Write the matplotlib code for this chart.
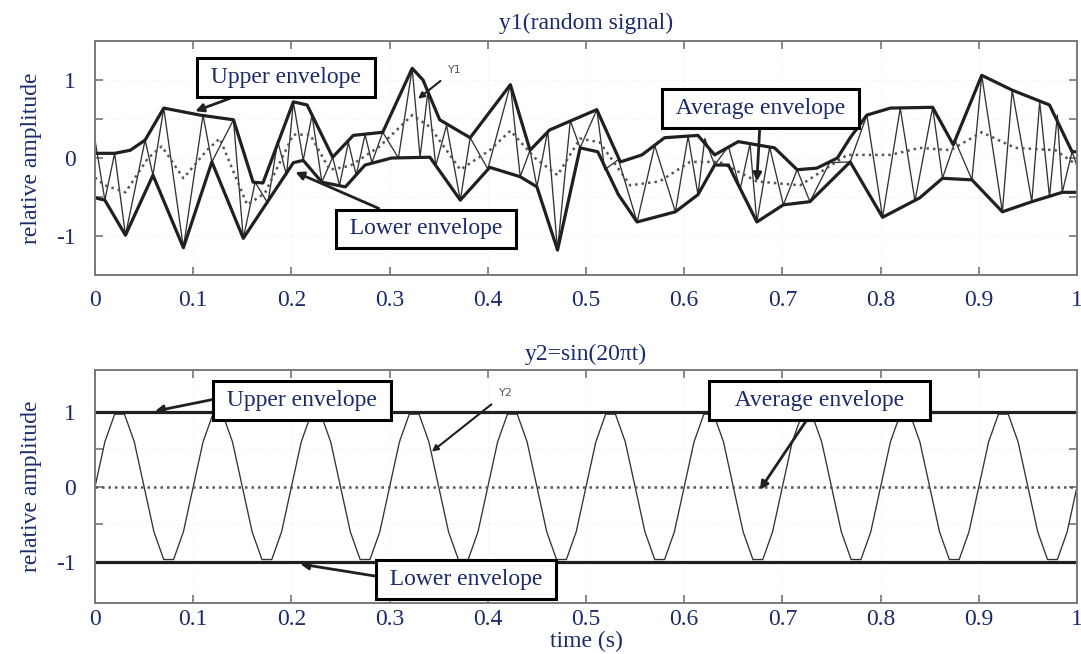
import matplotlib
matplotlib.use("Agg")
import matplotlib.pyplot as plt

# ---------------- data ----------------
# top panel: y1 (random signal)
y1_t = [0.000, 0.010, 0.020, 0.031, 0.051, 0.059, 0.070, 0.090, 0.110, 0.119,
        0.141, 0.151, 0.163, 0.176, 0.186, 0.195, 0.202, 0.212, 0.221, 0.231,
        0.242, 0.249, 0.258, 0.266, 0.275, 0.282, 0.293, 0.309, 0.323, 0.331,
        0.339, 0.347, 0.358, 0.372, 0.382, 0.400, 0.423, 0.433, 0.443, 0.450,
        0.461, 0.471, 0.484, 0.494, 0.511, 0.519, 0.533, 0.552, 0.570, 0.591,
        0.604, 0.614, 0.621, 0.631, 0.645, 0.657, 0.667, 0.674, 0.687, 0.701,
        0.715, 0.728, 0.748, 0.769, 0.786, 0.802, 0.820, 0.835, 0.853, 0.863,
        0.876, 0.893, 0.903, 0.924, 0.934, 0.954, 0.962, 0.972, 0.980, 0.985,
        0.995, 1.000]
y1_v = [0.23, -0.54, 0.06, -0.99, 0.23, -0.22, 0.64, -1.15, 0.55, -0.05,
        0.49, -1.03, -0.31, -0.58, 0.22, -0.22, 0.72, -0.03, 0.55, -0.31,
        0.01, -0.35, 0.20, -0.22, 0.30, -0.06, 0.33, 0.00, 1.15, 0.01,
        0.85, -0.10, 0.42, -0.54, 0.26, -0.14, 0.94, -0.24, 0.10, -0.37,
        0.35, -1.18, 0.48, 0.13, 0.62, -0.15, -0.02, -0.82, 0.16, -0.69,
        0.28, -0.47, 0.25, -0.09, 0.15, -0.40, 0.18, -0.82, 0.14, -0.60,
        -0.15, -0.56, -0.06, -0.05, 0.55, -0.76, 0.64, -0.55, 0.65, -0.26,
        0.22, -0.28, 1.06, -0.69, 0.87, -0.56, 0.72, -0.50, 0.55, -0.44,
        0.08, -0.10]

upper1_t = [0.000, 0.020, 0.036, 0.051, 0.070, 0.107, 0.141, 0.161, 0.171, 0.202,
            0.216, 0.242, 0.263, 0.293, 0.323, 0.334, 0.351, 0.382, 0.423, 0.443,
            0.463, 0.511, 0.535, 0.557, 0.580, 0.614, 0.631, 0.655, 0.692, 0.715,
            0.735, 0.756, 0.769, 0.786, 0.810, 0.853, 0.874, 0.903, 0.934, 0.972,
            0.995, 1.000]
upper1_v = [0.06, 0.06, 0.10, 0.23, 0.64, 0.55, 0.49, -0.31, -0.32, 0.72,
            0.68, 0.01, 0.29, 0.33, 1.15, 1.00, 0.49, 0.26, 0.94, 0.10,
            0.36, 0.62, -0.05, 0.04, 0.26, 0.29, 0.04, 0.21, 0.13, -0.15,
            -0.13, 0.00, 0.26, 0.55, 0.64, 0.65, 0.17, 1.06, 0.87, 0.68,
            0.08, 0.08]

lower1_t = [0.000, 0.010, 0.031, 0.059, 0.090, 0.119, 0.151, 0.202, 0.212, 0.231,
            0.255, 0.275, 0.302, 0.341, 0.372, 0.402, 0.433, 0.450, 0.471, 0.494,
            0.512, 0.533, 0.552, 0.591, 0.614, 0.631, 0.645, 0.674, 0.701, 0.728,
            0.769, 0.802, 0.840, 0.863, 0.893, 0.924, 0.954, 0.985, 1.000]
lower1_v = [-0.51, -0.54, -0.99, -0.22, -1.15, -0.05, -1.03, -0.06, -0.03, -0.31,
            -0.37, -0.09, 0.00, 0.01, -0.54, -0.12, -0.24, -0.37, -1.18, 0.13,
            0.08, -0.47, -0.82, -0.69, -0.47, -0.09, -0.09, -0.82, -0.60, -0.56,
            -0.05, -0.76, -0.51, -0.26, -0.28, -0.69, -0.56, -0.44, -0.44]

avg1_t = [0.000, 0.010, 0.031, 0.054, 0.068, 0.090, 0.114, 0.127, 0.155, 0.173,
          0.202, 0.219, 0.239, 0.260, 0.290, 0.323, 0.341, 0.372, 0.402, 0.423,
          0.448, 0.471, 0.494, 0.514, 0.545, 0.575, 0.606, 0.636, 0.674, 0.718,
          0.766, 0.810, 0.840, 0.871, 0.903, 0.937, 0.978, 1.000]
avg1_v = [-0.25, -0.35, -0.44, 0.00, 0.15, -0.26, 0.10, 0.25, -0.60, -0.45,
          0.30, 0.30, -0.15, -0.10, 0.15, 0.55, 0.40, -0.15, 0.10, 0.35,
          0.00, -0.22, 0.25, 0.20, -0.35, -0.30, -0.05, -0.05, -0.30, -0.35,
          0.04, 0.04, 0.13, 0.10, 0.33, 0.13, 0.10, -0.09]

# bottom panel: y2 = sin(20*pi*t), samples every 0.01 s as drawn
y2_t = [i / 100 for i in range(101)]
y2_v = [0, 0.6, 0.97, 0.97, 0.6, 0, -0.6, -0.97, -0.97, -0.6,
        0, 0.6, 0.97, 0.97, 0.6, 0, -0.6, -0.97, -0.97, -0.6,
        0, 0.6, 0.97, 0.97, 0.6, 0, -0.6, -0.97, -0.97, -0.6,
        0, 0.6, 0.97, 0.97, 0.6, 0, -0.6, -0.97, -0.97, -0.6,
        0, 0.6, 0.97, 0.97, 0.6, 0, -0.6, -0.97, -0.97, -0.6,
        0, 0.6, 0.97, 0.97, 0.6, 0, -0.6, -0.97, -0.97, -0.6,
        0, 0.6, 0.97, 0.97, 0.6, 0, -0.6, -0.97, -0.97, -0.6,
        0, 0.6, 0.97, 0.97, 0.6, 0, -0.6, -0.97, -0.97, -0.6,
        0, 0.6, 0.97, 0.97, 0.6, 0, -0.6, -0.97, -0.97, -0.6,
        0, 0.6, 0.97, 0.97, 0.6, 0, -0.6, -0.97, -0.97, -0.6,
        0]
env2_t = [0.0, 1.0]
upper2_v = [1.0, 1.0]
lower2_v = [-1.0, -1.0]
avg2_v = [0.0, 0.0]

xticks = [0, 0.1, 0.2, 0.3, 0.4, 0.5, 0.6, 0.7, 0.8, 0.9, 1]
xticklabels = ["0", "0.1", "0.2", "0.3", "0.4", "0.5", "0.6", "0.7", "0.8", "0.9", "1"]
yticks = [-1, -0.5, 0, 0.5, 1]
yticklabels = ["-1", "", "0", "", "1"]

# ---------------- styling ----------------
NAVY = "#1b2a6b"
plt.rcParams["font.family"] = ["Liberation Serif", "DejaVu Serif"]
plt.rcParams["font.size"] = 17

fig = plt.figure(figsize=(10.81, 6.54), dpi=100)
ax1 = fig.add_axes([0.0879, 0.5795, 0.9084, 0.3578])
ax2 = fig.add_axes([0.0879, 0.0780, 0.9084, 0.3563])

THIN = dict(color="#333333", lw=0.95)
THICK = dict(color="#202020", lw=2.3, solid_joinstyle="round")
DOT = dict(color="#555555", lw=1.8, linestyle=(0, (1.0, 1.6)))


def style(ax, ylim, xpad):
    ax.set_xlim(0, 1)
    ax.set_ylim(*ylim)
    ax.set_xticks(xticks)
    ax.set_xticklabels(xticklabels)
    ax.set_yticks(yticks)
    ax.set_yticklabels(yticklabels)
    ax.tick_params(axis="both", direction="in", top=True, right=True,
                   color="#777777", length=6, width=1.2, labelcolor=NAVY)
    ax.tick_params(axis="x", pad=xpad)
    ax.tick_params(axis="y", pad=14)
    for s in ax.spines.values():
        s.set_color("#7a7a7a")
        s.set_linewidth(1.4)
    ax.grid(True, color="#f1dede", lw=0.6, linestyle=(0, (1, 3)))
    ax.set_axisbelow(True)
    ax.set_ylabel("relative amplitude", color=NAVY, labelpad=10)


def label(ax, text, xytext, xy, relpos=(0.5, 0.5)):
    box = dict(boxstyle="square,pad=0.38", fc="white", ec="black", lw=2.2)
    t = ax.annotate(text, xy=xy, xytext=xytext, ha="center", va="center",
                    color=NAVY, fontsize=17, bbox=box,
                    arrowprops=dict(arrowstyle="-|>", color="#202020", lw=2.0,
                                    mutation_scale=12, shrinkA=0, shrinkB=0,
                                    relpos=relpos),
                    zorder=10)
    return t


# ---------------- top panel ----------------
ax1.plot(y1_t, y1_v, **THIN)
ax1.plot(avg1_t, avg1_v, **DOT)
ax1.plot(upper1_t, upper1_v, **THICK)
ax1.plot(lower1_t, lower1_v, **THICK)
style(ax1, (-1.5, 1.5), 11)
ax1.set_title("y1(random signal)", color=NAVY, fontsize=17, pad=9)

label(ax1, "\u2009Upper envelope\u2009", (0.1945, 1.03), (0.102, 0.60))
label(ax1, "\u2009Lower envelope\u2009", (0.337, -0.91), (0.204, -0.18))
label(ax1, "\u2009Average envelope\u2009", (0.678, 0.64), (0.674, -0.30))
ax1.annotate("Y1", xy=(0.329, 0.76), xytext=(0.366, 1.13), ha="center",
             va="center", color="#555555", fontsize=8,
             family=["DejaVu Sans"],
             arrowprops=dict(arrowstyle="-|>", color="#202020", lw=1.5,
                             mutation_scale=9, shrinkA=4, shrinkB=0))

# ---------------- bottom panel ----------------
ax2.plot(y2_t, y2_v, **THIN)
ax2.plot(env2_t, avg2_v, **DOT)
ax2.plot(env2_t, upper2_v, **THICK)
ax2.plot(env2_t, lower2_v, **THICK)
style(ax2, (-1.55, 1.56), 4)
ax2.set_title("y2=sin(20\u03c0t)", color=NAVY, fontsize=17, pad=7)
ax2.set_xlabel("time (s)", color=NAVY)
ax2.xaxis.set_label_coords(0.5, -0.12)

label(ax2, "\u2009Upper envelope\u2009", (0.211, 1.15), (0.061, 1.01),
      relpos=(0.0, 0.65))
label(ax2, "\u2002\u2009Average envelope\u2002\u2009", (0.738, 1.15), (0.677, -0.04))
label(ax2, "\u2009Lower envelope\u2009", (0.378, -1.24), (0.209, -1.03),
      relpos=(0.0, 0.6))
ax2.annotate("Y2", xy=(0.343, 0.47), xytext=(0.418, 1.25), ha="center",
             va="center", color="#555555", fontsize=8,
             family=["DejaVu Sans"],
             arrowprops=dict(arrowstyle="-|>", color="#202020", lw=1.5,
                             mutation_scale=9, shrinkA=4, shrinkB=0))

fig.savefig("out.png", dpi=100)
